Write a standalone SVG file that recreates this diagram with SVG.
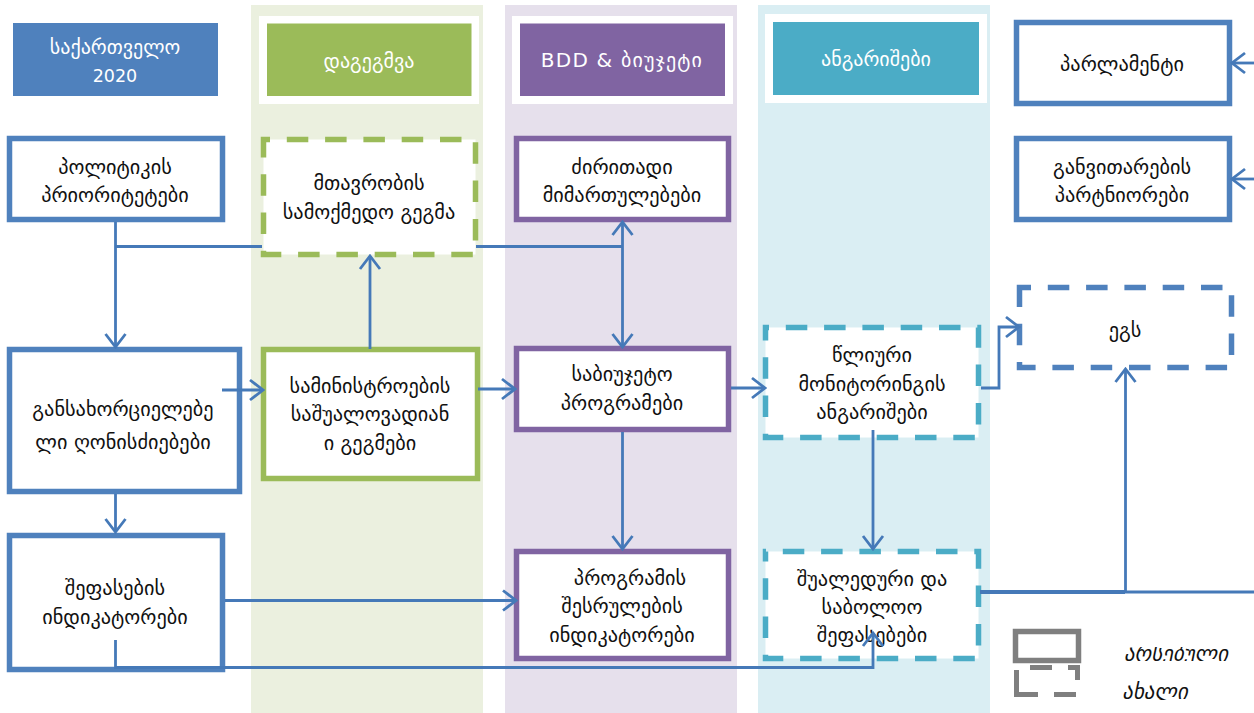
<svg xmlns="http://www.w3.org/2000/svg" width="1254" height="713" viewBox="0 0 1254 713">
<style>
text{font-family:"DejaVu Sans",sans-serif;font-size:20.300px;fill:#111;text-anchor:middle}
.h{fill:#fff;font-size:20px}
.box{fill:#fff;stroke-width:5.500}
.d{stroke-dasharray:21.500 16.800;stroke-width:5.500}
.blue{stroke:#4F81BD}.green{stroke:#9BBB59}.purple{stroke:#8064A2}.teal{stroke:#4BACC6}.gray{stroke:#7F7F7F}
.c{fill:none;stroke:#4579B8;stroke-width:2.800}
.leg{font-size:21px;font-style:italic}
</style>
<defs>
<marker id="a" markerUnits="userSpaceOnUse" viewBox="-16 -12 18 24" refX="0" refY="0" markerWidth="18" markerHeight="24" orient="auto"><path d="M-13-10L0 0L-13 10" fill="none" stroke="#4579B8" stroke-width="2.800"/></marker>
<marker id="s" markerUnits="userSpaceOnUse" viewBox="-16 -12 18 24" refX="0" refY="0" markerWidth="18" markerHeight="24" orient="auto-start-reverse"><path d="M-13-10L0 0L-13 10" fill="none" stroke="#4579B8" stroke-width="2.800"/></marker>
<clipPath id="c1"><rect x="1110" y="647" width="130" height="14"/></clipPath>
<clipPath id="c2"><rect x="1110" y="678" width="130" height="22"/></clipPath>
</defs>
<g id="bands">
<rect x="251" y="5" width="232" height="708" fill="#EBF0DF"/>
<rect x="505" y="5" width="232" height="708" fill="#E6E0EC"/>
<rect x="758" y="5" width="232" height="708" fill="#DAEEF3"/>
</g>
<g id="h-georgia"><rect x="13" y="23" width="205" height="73" fill="#4F81BD"/><text class="h" x="115" y="54">საქართველო</text><text class="h" x="115" y="82" style="font-size:17.500px">2020</text></g>
<g id="h-plan"><rect x="259" y="16" width="220" height="88" fill="#fff"/><rect x="267" y="23.500" width="204.500" height="72.500" fill="#9BBB59"/><text class="h" x="369" y="68">დაგეგმვა</text></g>
<g id="h-budget"><rect x="512" y="16" width="221" height="88" fill="#fff"/><rect x="520" y="23.500" width="205" height="72.500" fill="#8064A2"/><text class="h" x="622" y="67" letter-spacing="1.200">BDD &amp; ბიუჯეტი</text></g>
<g id="h-reports"><rect x="765" y="14" width="222" height="89" fill="#fff"/><rect x="773" y="22" width="206" height="73" fill="#4BACC6"/><text class="h" x="876" y="66">ანგარიშები</text></g>
<g id="n-parliament"><rect class="box blue" x="1016.500" y="22.500" width="213" height="81"/><text x="1122" y="71">პარლამენტი</text></g>
<g id="n-partners"><rect class="box blue" x="1016.500" y="138.500" width="213" height="81"/><text x="1122" y="174">განვითარების</text><text x="1122" y="202">პარტნიორები</text></g>
<g id="n-policy"><rect class="box blue" x="9.500" y="138.500" width="213" height="81"/><text x="115" y="174">პოლიტიკის</text><text x="115" y="202">პრიორიტეტები</text></g>
<g id="n-govplan"><rect class="box d green" stroke-dashoffset="15" x="263.500" y="139.500" width="212" height="115"/><text x="369" y="190">მთავრობის</text><text x="369" y="219">სამოქმედო გეგმა</text></g>
<g id="n-directions"><rect class="box purple" x="516.500" y="138.500" width="212" height="81"/><text x="622" y="174">ძირითადი</text><text x="622" y="202">მიმართულებები</text></g>
<g id="n-measures"><rect class="box blue" x="9.500" y="349.500" width="230" height="142"/><text x="123" y="416">განსახორციელებე</text><text x="123" y="449">ლი ღონისძიებები</text></g>
<g id="n-ministries"><rect class="box green" x="263.500" y="349.500" width="214" height="129"/><text x="370" y="393">სამინისტროების</text><text x="370" y="421">საშუალოვადიან</text><text x="370" y="450">ი გეგმები</text></g>
<g id="n-programs"><rect class="box purple" x="516.500" y="348.500" width="212" height="81"/><text x="622" y="381">საბიუჯეტო</text><text x="622" y="410">პროგრამები</text></g>
<g id="n-annual"><rect class="box d teal" stroke-dashoffset="18" x="765.500" y="327.500" width="213" height="110"/><text x="872" y="362">წლიური</text><text x="872" y="391">მონიტორინგის</text><text x="872" y="419">ანგარიშები</text></g>
<g id="n-egs"><rect class="box d blue" stroke-dashoffset="10" x="1019.500" y="287.500" width="212" height="80"/><text x="1125" y="337">ეგს</text></g>
<g id="n-indicators"><rect class="box blue" x="9.500" y="535.500" width="213" height="134"/><text x="115" y="595">შეფასების</text><text x="115" y="624">ინდიკატორები</text></g>
<g id="n-perf"><rect class="box purple" x="516.500" y="551.500" width="212" height="107"/><text x="630" y="585">პროგრამის</text><text x="622" y="613">შესრულების</text><text x="622" y="642">ინდიკატორები</text></g>
<g id="n-interim"><rect class="box d teal" stroke-dashoffset="21" x="765.500" y="551.500" width="213" height="107"/><text x="872" y="586">შუალედური და</text><text x="872" y="614">საბოლოო</text><text x="872" y="642">შეფასებები</text></g>
<g id="legend-existing"><rect class="box gray" x="1015.500" y="631.500" width="63" height="29"/><text class="leg" x="1176" y="661" clip-path="url(#c1)">არსებული</text></g>
<g id="legend-new"><path class="gray" fill="none" stroke-width="5" d="M1030 667.500H1052M1068 667.500H1077.500V680M1016.500 670V694.500H1038M1054 694.500H1076"/><text class="leg" x="1155" y="699" clip-path="url(#c2)">ახალი</text></g>
<g id="connectors">
<path class="c" d="M115.500 222V347" marker-end="url(#a)"/>
<path class="c" d="M115.500 246.500H262"/>
<path class="c" d="M476 246.500H622.500"/>
<path class="c" d="M622.500 222V347" marker-start="url(#s)" marker-end="url(#a)"/>
<path class="c" d="M370 349V256" marker-end="url(#a)"/>
<path class="c" d="M222 390H263" marker-end="url(#a)"/>
<path class="c" d="M478 389H515" marker-end="url(#a)"/>
<path class="c" d="M731 388H765" marker-end="url(#a)"/>
<path class="c" d="M981 388H999V327H1019" marker-end="url(#a)"/>
<path class="c" d="M115.500 494V532" marker-end="url(#a)"/>
<path class="c" d="M225 600.500H516" marker-end="url(#a)"/>
<path class="c" d="M622.500 432V549" marker-end="url(#a)"/>
<path class="c" d="M873 430V549" marker-end="url(#a)"/>
<path class="c" d="M115.500 640V667.500H873V633" marker-end="url(#a)"/>
<path class="c" d="M980 592H1254"/>
<path class="c" d="M980 592H1125" style="stroke-width:4"/>
<path class="c" d="M1125.500 592V369" marker-end="url(#a)"/>
<path class="c" d="M1254 63H1232" marker-end="url(#a)"/>
<path class="c" d="M1254 179H1232" marker-end="url(#a)"/>
</g>
</svg>
